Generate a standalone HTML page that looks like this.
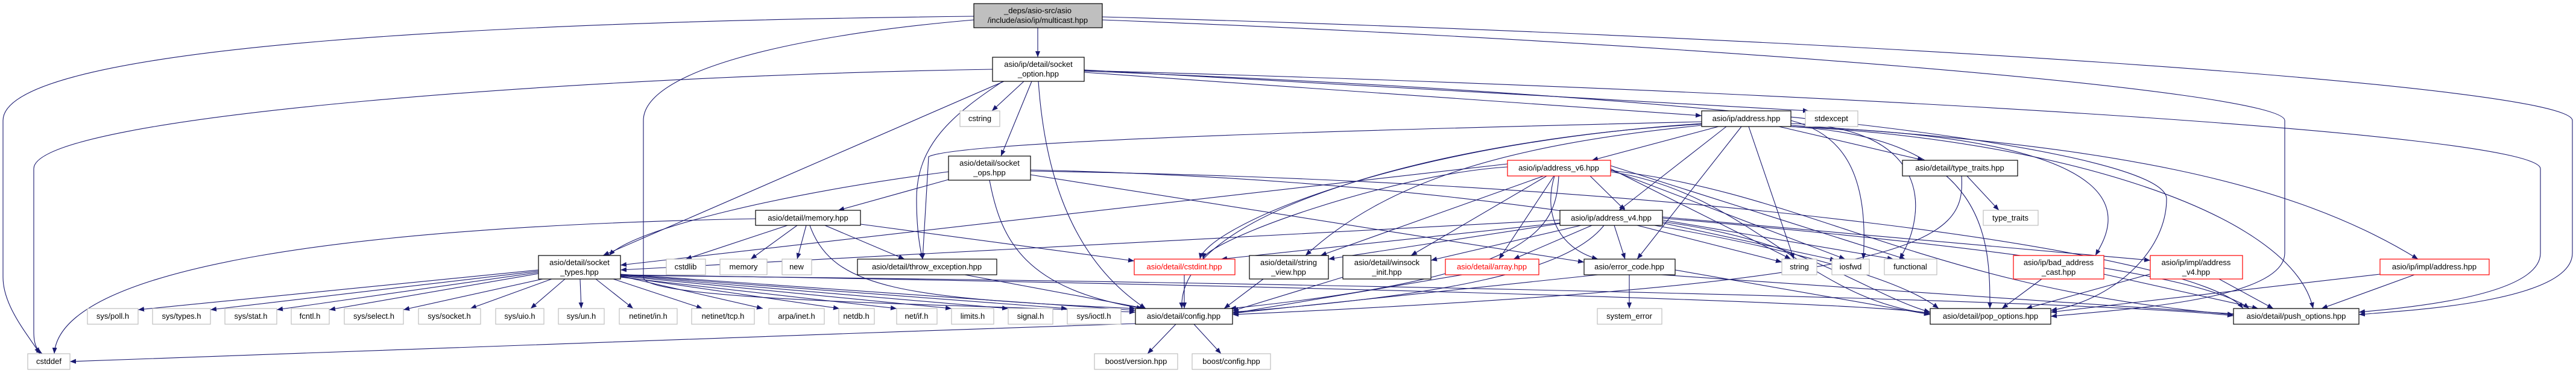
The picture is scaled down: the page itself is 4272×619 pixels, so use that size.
<!DOCTYPE html>
<html><head><meta charset="utf-8"><style>
html,body{margin:0;padding:0;background:#fff;}
svg{display:block;}
text{font-family:"Liberation Sans",sans-serif;font-size:13px;fill:#000;}
.n rect{fill:#fff;stroke:#000;stroke-width:1.2;}
.g rect{fill:#fff;stroke:#bfbfbf;stroke-width:1.2;}
.r rect{fill:#fff;stroke:#ff0000;stroke-width:1.2;}
.e path{fill:none;stroke:#191970;stroke-width:1.1;marker-end:url(#a);}
</style></head><body>
<svg width="4272" height="619" viewBox="0 0 4272 619" xmlns="http://www.w3.org/2000/svg">
<defs><marker id="a" markerUnits="userSpaceOnUse" markerWidth="10" markerHeight="8" refX="10" refY="4" orient="auto"><path d="M0,0 L10,4 L0,8 z" fill="#191970"/></marker></defs>
<g class="e">
<path d="M1721,46 L1721,95"/>
<path d="M1615,27 C900,35 5,70 5,200 L5,460 C5,510 50,560 66,587"/>
<path d="M1615,33 C1300,60 1067,120 1067,200 L1067,460 C1067,500 1600,505 1883,518"/>
<path d="M1828,28 C3000,60 4266,140 4266,200 L4266,420 C4266,500 4000,515 3912,522"/>
<path d="M1828,33 C2800,70 3789,150 3789,200 L3789,420 C3789,500 3500,515 3401,525"/>
<path d="M1646,115 C1000,125 56,190 56,280 L56,550 C56,570 60,580 70,587"/>
<path d="M1698,135 L1645,184"/>
<path d="M1711,135 L1660,259"/>
<path d="M1663,135 C1580,190 1520,240 1520,330 C1520,380 1525,410 1530,430"/>
<path d="M1665,135 L1000,424"/>
<path d="M1722,135 C1730,250 1760,420 1900,512"/>
<path d="M1798,120 L2822,192"/>
<path d="M1798,116 L3000,184"/>
<path d="M1798,117 C3000,150 4213,220 4213,280 L4213,420 C4213,490 4000,510 3912,518"/>
<path d="M1798,118 C2900,160 3593,250 3593,330 C3593,420 3500,500 3401,515"/>
<path d="M1573,298 L1390,349"/>
<path d="M1573,285 C1300,320 1050,380 1010,424"/>
<path d="M1641,299 C1660,400 1700,480 1895,512"/>
<path d="M1709,290 L2627,435"/>
<path d="M1709,282 C2500,300 3100,420 3215,512"/>
<path d="M1709,284 C2800,300 3650,420 3720,512"/>
<path d="M1253,363 C600,375 100,440 90,587"/>
<path d="M1306,374 L1137,430"/>
<path d="M1322,374 L1245,430"/>
<path d="M1337,374 L1322,430"/>
<path d="M1368,374 L1500,430"/>
<path d="M1427,372 L1881,433"/>
<path d="M1343,374 C1380,480 1500,495 1883,512"/>
<path d="M893,448 L229,514"/>
<path d="M893,450 L349,514"/>
<path d="M893,452 L459,514"/>
<path d="M893,454 L546,514"/>
<path d="M900,463 L669,514"/>
<path d="M915,463 L780,512"/>
<path d="M937,463 L880,512"/>
<path d="M962,463 L964,512"/>
<path d="M988,463 L1050,512"/>
<path d="M1017,463 L1165,512"/>
<path d="M1029,458 L1265,512"/>
<path d="M1029,459 L1392,512"/>
<path d="M1029,460 L1487,512"/>
<path d="M1029,458 L1578,512"/>
<path d="M1029,457 L1672,512"/>
<path d="M1029,456 L1770,512"/>
<path d="M1029,455 L1883,515"/>
<path d="M1029,456 C2000,470 3100,500 3201,520"/>
<path d="M1029,457 C2300,470 3500,500 3704,524"/>
<path d="M2850,210 L2640,266"/>
<path d="M2863,210 L2685,349"/>
<path d="M2888,210 L2715,430"/>
<path d="M2900,210 L2975,430"/>
<path d="M2822,202 C2500,210 1600,230 1540,260 L1530,430"/>
<path d="M2822,208 C2500,240 2300,300 2165,424"/>
<path d="M2822,206 C2400,230 1950,350 1960,512"/>
<path d="M2822,205 C2300,240 2000,380 1990,430"/>
<path d="M2950,210 L3190,266"/>
<path d="M2970,200 C3050,220 3100,280 3090,430"/>
<path d="M2970,205 C3200,210 3200,350 3150,430"/>
<path d="M2970,210 C3600,230 3500,380 3475,424"/>
<path d="M2970,208 C3500,240 3800,300 4010,430"/>
<path d="M2970,210 C3300,230 3300,400 3300,512"/>
<path d="M2970,210 C3400,230 3800,350 3836,512"/>
<path d="M2637,292 L2695,349"/>
<path d="M2560,292 L2190,424"/>
<path d="M2565,292 L2340,424"/>
<path d="M2577,292 L2486,430"/>
<path d="M2578,292 C2560,350 2580,410 2650,430"/>
<path d="M2500,277 C2300,290 2000,400 1995,430"/>
<path d="M2500,272 L1029,440"/>
<path d="M2585,292 C2580,380 2550,460 2040,512"/>
<path d="M2671,280 L2970,430"/>
<path d="M2671,282 L3060,430"/>
<path d="M2671,275 L3160,430"/>
<path d="M2671,285 C2900,320 3000,500 3201,520"/>
<path d="M2671,283 C3000,320 3200,480 3704,522"/>
<path d="M2587,365 L1029,448"/>
<path d="M2587,370 L2025,430"/>
<path d="M2587,371 L2203,430"/>
<path d="M2622,374 L2373,432"/>
<path d="M2640,374 L2510,430"/>
<path d="M2677,374 L2695,430"/>
<path d="M2715,374 L2955,435"/>
<path d="M2757,370 L3045,432"/>
<path d="M2757,365 L3140,430"/>
<path d="M2757,360 L3566,432"/>
<path d="M2757,368 C3000,400 3100,490 3201,518"/>
<path d="M2757,362 C3200,400 3650,450 3730,512"/>
<path d="M2660,374 C2600,450 2400,490 2044,518"/>
<path d="M2702,456 L2702,512"/>
<path d="M2650,456 L2044,520"/>
<path d="M2778,448 L3201,522"/>
<path d="M2755,456 L3720,522"/>
<path d="M1964,456 L1964,512"/>
<path d="M2095,463 L2030,512"/>
<path d="M2227,460 L2044,516"/>
<path d="M2425,456 L2044,520"/>
<path d="M1600,456 L1900,512"/>
<path d="M3262,292 L3315,349"/>
<path d="M3253,292 C3260,400 3200,470 2044,522"/>
<path d="M3386,463 L3320,512"/>
<path d="M3489,455 L3745,512"/>
<path d="M3565,455 L3360,512"/>
<path d="M3680,463 L3770,512"/>
<path d="M3947,455 L3401,518"/>
<path d="M4004,456 L3850,512"/>
<path d="M1950,538 L1903,587"/>
<path d="M1980,538 L2025,587"/>
<path d="M1883,537 C1200,560 400,590 116,600"/>
</g>
<g text-anchor="middle">
<g><rect x="1615" y="6" width="213" height="40" fill="#bfbfbf" stroke="#000" stroke-width="1.2"/><text x="1721" y="22">_deps/asio-src/asio</text><text x="1721" y="38">/include/asio/ip/multicast.hpp</text></g>
<g class="n"><rect x="1646" y="95" width="152" height="40"/><text x="1722" y="111">asio/ip/detail/socket</text><text x="1722" y="127">_option.hpp</text></g>
<g class="g"><rect x="1592" y="184" width="66" height="26"/><text x="1625" y="201">cstring</text></g>
<g class="n"><rect x="1573" y="259" width="136" height="40"/><text x="1641" y="275">asio/detail/socket</text><text x="1641" y="291">_ops.hpp</text></g>
<g class="n"><rect x="1253" y="349" width="174" height="25"/><text x="1340" y="366">asio/detail/memory.hpp</text></g>
<g class="n"><rect x="893" y="424" width="136" height="39"/><text x="961" y="440">asio/detail/socket</text><text x="961" y="456">_types.hpp</text></g>
<g class="g"><rect x="1105" y="430" width="65" height="26"/><text x="1137" y="447">cstdlib</text></g>
<g class="g"><rect x="1194" y="430" width="78" height="26"/><text x="1233" y="447">memory</text></g>
<g class="g"><rect x="1297" y="430" width="49" height="26"/><text x="1321" y="447">new</text></g>
<g class="n"><rect x="1422" y="430" width="231" height="26"/><text x="1537" y="447">asio/detail/throw_exception.hpp</text></g>
<g class="r"><rect x="1881" y="430" width="167" height="26"/><text x="1964" y="447" style="fill:#ff0000">asio/detail/cstdint.hpp</text></g>
<g class="g"><rect x="145" y="512" width="84" height="26"/><text x="187" y="529">sys/poll.h</text></g>
<g class="g"><rect x="253" y="512" width="96" height="26"/><text x="301" y="529">sys/types.h</text></g>
<g class="g"><rect x="373" y="512" width="86" height="26"/><text x="416" y="529">sys/stat.h</text></g>
<g class="g"><rect x="483" y="512" width="63" height="26"/><text x="514" y="529">fcntl.h</text></g>
<g class="g"><rect x="571" y="512" width="98" height="26"/><text x="620" y="529">sys/select.h</text></g>
<g class="g"><rect x="694" y="512" width="103" height="26"/><text x="745" y="529">sys/socket.h</text></g>
<g class="g"><rect x="822" y="512" width="80" height="26"/><text x="862" y="529">sys/uio.h</text></g>
<g class="g"><rect x="926" y="512" width="76" height="26"/><text x="964" y="529">sys/un.h</text></g>
<g class="g"><rect x="1027" y="512" width="96" height="26"/><text x="1075" y="529">netinet/in.h</text></g>
<g class="g"><rect x="1147" y="512" width="104" height="26"/><text x="1199" y="529">netinet/tcp.h</text></g>
<g class="g"><rect x="1275" y="512" width="92" height="26"/><text x="1321" y="529">arpa/inet.h</text></g>
<g class="g"><rect x="1391" y="512" width="59" height="26"/><text x="1420" y="529">netdb.h</text></g>
<g class="g"><rect x="1487" y="512" width="67" height="26"/><text x="1520" y="529">net/if.h</text></g>
<g class="g"><rect x="1578" y="512" width="70" height="26"/><text x="1613" y="529">limits.h</text></g>
<g class="g"><rect x="1672" y="512" width="74" height="26"/><text x="1709" y="529">signal.h</text></g>
<g class="g"><rect x="1770" y="512" width="89" height="26"/><text x="1814" y="529">sys/ioctl.h</text></g>
<g class="n"><rect x="1883" y="512" width="161" height="26"/><text x="1963" y="529">asio/detail/config.hpp</text></g>
<g class="g"><rect x="1815" y="587" width="138" height="26"/><text x="1884" y="604">boost/version.hpp</text></g>
<g class="g"><rect x="1977" y="587" width="130" height="26"/><text x="2042" y="604">boost/config.hpp</text></g>
<g class="g"><rect x="46" y="587" width="70" height="26"/><text x="81" y="604">cstddef</text></g>
<g class="n"><rect x="2822" y="184" width="148" height="26"/><text x="2896" y="201">asio/ip/address.hpp</text></g>
<g class="g"><rect x="2994" y="184" width="87" height="26"/><text x="3037" y="201">stdexcept</text></g>
<g class="r"><rect x="2500" y="266" width="171" height="26"/><text x="2585" y="283">asio/ip/address_v6.hpp</text></g>
<g class="n"><rect x="2587" y="349" width="170" height="25"/><text x="2672" y="366">asio/ip/address_v4.hpp</text></g>
<g class="n"><rect x="2072" y="424" width="131" height="39"/><text x="2137" y="440">asio/detail/string</text><text x="2137" y="456">_view.hpp</text></g>
<g class="n"><rect x="2227" y="424" width="146" height="39"/><text x="2300" y="440">asio/detail/winsock</text><text x="2300" y="456">_init.hpp</text></g>
<g class="r"><rect x="2397" y="430" width="155" height="26"/><text x="2474" y="447" style="fill:#ff0000">asio/detail/array.hpp</text></g>
<g class="n"><rect x="2627" y="430" width="151" height="26"/><text x="2702" y="447">asio/error_code.hpp</text></g>
<g class="g"><rect x="2955" y="430" width="58" height="26"/><text x="2984" y="447">string</text></g>
<g class="g"><rect x="3038" y="430" width="62" height="26"/><text x="3069" y="447">iosfwd</text></g>
<g class="g"><rect x="3125" y="430" width="87" height="26"/><text x="3168" y="447">functional</text></g>
<g class="g"><rect x="2649" y="512" width="107" height="26"/><text x="2702" y="529">system_error</text></g>
<g class="n"><rect x="3155" y="266" width="191" height="26"/><text x="3250" y="283">asio/detail/type_traits.hpp</text></g>
<g class="g"><rect x="3289" y="349" width="91" height="25"/><text x="3334" y="366">type_traits</text></g>
<g class="r"><rect x="3339" y="424" width="150" height="39"/><text x="3414" y="440">asio/ip/bad_address</text><text x="3414" y="456">_cast.hpp</text></g>
<g class="r"><rect x="3566" y="424" width="153" height="39"/><text x="3642" y="440">asio/ip/impl/address</text><text x="3642" y="456">_v4.hpp</text></g>
<g class="r"><rect x="3947" y="430" width="181" height="26"/><text x="4037" y="447">asio/ip/impl/address.hpp</text></g>
<g class="n"><rect x="3201" y="512" width="200" height="26"/><text x="3301" y="529">asio/detail/pop_options.hpp</text></g>
<g class="n"><rect x="3704" y="512" width="208" height="26"/><text x="3808" y="529">asio/detail/push_options.hpp</text></g>
</g>
</svg>
</body></html>
